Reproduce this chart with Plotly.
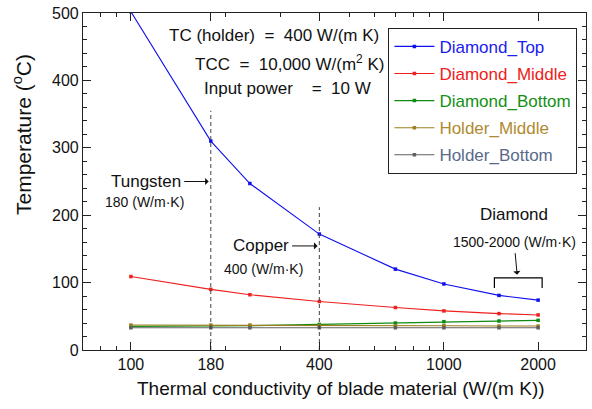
import plotly.graph_objects as go

# Data
conductivity = [100, 180, 240, 400, 700, 1000, 1500, 2000]
diamond_top = [502, 310, 247, 172, 120, 98, 81, 74]
diamond_middle = [109, 90, 82, 72, 63, 58, 54, 52]
diamond_bottom = [35, 35, 36, 38, 40, 42, 43, 44]
holder_middle = [37, 37, 37, 36.5, 36, 36, 35.5, 35.5]
holder_bottom = [33, 33, 33, 33, 33, 33, 33, 33]

series_names = ["Diamond_Top", "Diamond_Middle", "Diamond_Bottom", "Holder_Middle", "Holder_Bottom"]
series_values = [diamond_top, diamond_middle, diamond_bottom, holder_middle, holder_bottom]
line_colors = ["#1010ee", "#ee2020", "#108a10", "#9c8020", "#606060"]
text_colors = ["#2020ee", "#ee2020", "#159015", "#b08a30", "#5a6a8a"]

x_tick_vals = [100, 180, 400, 1000, 2000]
x_minor_vals = [80, 90, 200, 300, 500, 600, 700, 800, 900]

# material marker lines (x, top value)
tungsten_line = ([180, 180], [0, 355])
copper_line = ([400, 400], [0, 212])
bracket_x = [1450, 1450, 2060, 2060]
bracket_y = [92, 107, 107, 92]

FONT = "Liberation Sans, Arial, sans-serif"

fig = go.Figure()
for i, (name, vals) in enumerate(zip(series_names, series_values)):
    fig.add_trace(go.Scatter(
        x=conductivity, y=vals, mode="lines+markers",
        name=f"<span style='color:{text_colors[i]}'>{name}</span>",
        line=dict(color=line_colors[i], width=1.1),
        marker=dict(color=line_colors[i], size=3.5, symbol="square"),
        legendgroup=name, cliponaxis=True,
    ))

for lx, ly in (tungsten_line, copper_line):
    fig.add_trace(go.Scatter(x=lx, y=ly, mode="lines", showlegend=False,
                             line=dict(color="#444444", width=1, dash="4px,3px"),
                             hoverinfo="skip"))
fig.add_trace(go.Scatter(x=bracket_x, y=bracket_y, mode="lines", showlegend=False,
                         line=dict(color="black", width=1.2), hoverinfo="skip"))

# plot area in pixels
L, R, T, B = 83, 587, 10, 350
W, H = R - L, B - T

def px(xp):
    return (xp - L) / W

def py(yp):
    return (B - yp) / H

ann = []
def text(s, x, y, size=17, xanchor="center", angle=0):
    ann.append(dict(text=s, x=px(x), y=py(y), xref="paper", yref="paper",
                    showarrow=False, xanchor=xanchor, yanchor="middle", textangle=angle,
                    font=dict(family=FONT, size=size, color="#111111")))

def arrow_text(s, hx, hy, tx, ty, size=17):
    # head at (hx, hy), text centred at (tx, ty), all in pixels
    ann.append(dict(text=s, x=px(hx), y=py(hy), xref="paper", yref="paper",
                    showarrow=True, ax=tx - hx, ay=ty - hy, arrowhead=1, arrowsize=1.2,
                    arrowwidth=1, arrowcolor="#111111", standoff=0, startstandoff=2,
                    font=dict(family=FONT, size=size, color="#111111")))

text("TC (holder)  =  400 W/(m K)", 167, 33, 17, "left")
text("TCC  =  10,000 W/(m<sup>2</sup> K)", 193, 60, 17, "left")
text("Input power    =  10 W", 202, 86, 17, "left")
arrow_text("Tungsten", 209, 180, 146, 180)
text("180 (W/m·K)", 145, 201, 14)
arrow_text("Copper", 318, 245, 261, 245)
text("400 (W/m·K)", 264, 268, 14)
text("Diamond", 515, 213, 17)
arrow_text("1500-2000 (W/m·K)", 518, 274, 515, 241, 14)
text("Temperature (<sup>o</sup>C)", 22, 133, 21, angle=-90)
text("Thermal conductivity of blade material (W/(m K))", 342, 389, 19)

fig.update_layout(
    width=592, height=409,
    margin=dict(l=L, r=592 - R, t=T, b=409 - B),
    paper_bgcolor="white", plot_bgcolor="white",
    font=dict(family=FONT, size=16, color="#111111"),
    annotations=ann,
    legend=dict(x=px(389), y=py(25), xanchor="left", yanchor="top",
                bordercolor="#222222", borderwidth=1, bgcolor="white",
                font=dict(family=FONT, size=17),
                tracegroupgap=2, traceorder="grouped", itemwidth=40),
    xaxis=dict(type="log", range=[1.847, 3.454],
               tickmode="array", tickvals=x_tick_vals,
               ticktext=[str(v) for v in x_tick_vals],
               ticks="inside", ticklen=8, tickcolor="#222222",
               minor=dict(tickmode="array", tickvals=x_minor_vals, ticks="inside",
                          ticklen=4, tickcolor="#222222", showgrid=False),
               showline=True, linecolor="#222222", linewidth=1.2, mirror="allticks",
               showgrid=False, zeroline=False,
               tickfont=dict(size=16)),
    yaxis=dict(range=[0, 500], dtick=100, tick0=0,
               ticks="inside", ticklen=8, tickcolor="#222222",
               minor=dict(dtick=20, ticks="inside", ticklen=4, tickcolor="#222222", showgrid=False),
               showline=True, linecolor="#222222", linewidth=1.2, mirror="allticks",
               showgrid=False, zeroline=False,
               tickfont=dict(size=16)),
)

fig.write_html("out.html")
